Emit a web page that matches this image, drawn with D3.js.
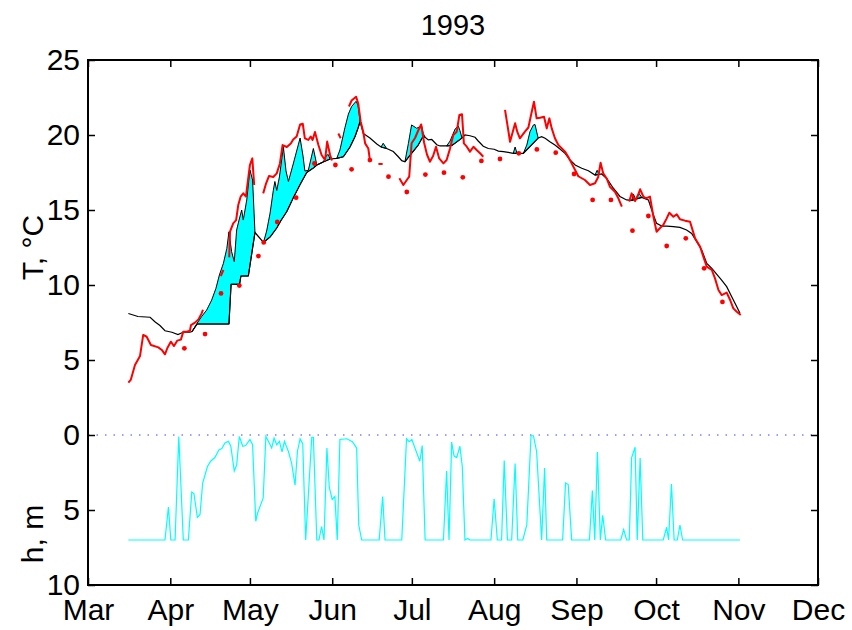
<!DOCTYPE html>
<html>
<head>
<meta charset="utf-8">
<script src="https://cdn.jsdelivr.net/npm/d3@7"></script>
<style>
  body { margin: 0; background: #fff; }
  svg { font-family: "Liberation Sans", Arial, Helvetica, sans-serif; }
</style>
</head>
<body>
<div id="chart"></div>
<script>
// day-of-year (1993) and temperature / depth values
const monthStarts = [60, 91, 121, 152, 182, 213, 244, 274, 305, 335];
const monthLabels = ["Mar", "Apr", "May", "Jun", "Jul", "Aug", "Sep", "Oct", "Nov", "Dec"];
const yTicks = [-10, -5, 0, 5, 10, 15, 20, 25];

// smooth black line (lower edge of the cyan patches)
const tBot = [[75.2,8.1],[78.8,7.9],[83.4,7.85],[85.2,7.55],[87.1,7.3],[89,6.95],[91.6,6.85],[93.9,6.7],[95.8,6.85],[98.4,6.85],
  [99.2,6.9],[101.1,7.4],[113.1,7.4],[113.9,10.05],[117.1,10.05],[117.6,10.6],[120.4,10.6],[122.9,13.5],[126.1,12.84],
  [128.6,13.2],[131.1,13.8],[132.7,14.3],[134.9,14.9],[137.3,15.8],[139.9,16.7],[142.4,17.5],[144.9,17.8],[146.2,18.0],
  [148.6,18.2],[151.2,18.4],[153.7,18.44],[156.2,18.55],[158.7,19.2],[160.6,19.9],[161.8,20.5],[162.5,20.9],[163.7,20.1],
  [166.2,19.8],[168.8,19.4],[170.4,19.2],[172.5,19.1],[175,18.9],[176.9,18.55],[178.2,18.29],[179.4,18.22],[184.3,19.3],
  [186.2,19.9],[187,19.85],[188.2,19.67],[189.5,19.7],[191.4,19.35],[192.6,19.27],[195.1,19.27],[197.1,19.3],[200.9,19.8],
  [202,20.0],[203.9,19.95],[205.8,19.85],[207,19.6],[208.9,19.25],[210.8,19.1],[213,19.05],[214.6,18.93],[216.5,18.89],
  [218.3,18.84],[220.2,18.78],[224,18.78],[229.6,19.8],[230.9,19.89],[232.2,19.78],[234,19.55],[235.9,19.33],[237.8,19.07],
  [239.7,18.78],[241.6,18.33],[243.5,18.0],[246,17.78],[248.5,17.62],[251,17.33],[253.5,17.4],[255.4,17.1],[257.9,16.45],
  [260.4,15.9],[262.9,15.67],[264.8,15.64],[268.6,15.84],[271.1,15.67],[273,14.67],[274.2,14.11],[276.1,13.93],[278,13.93],
  [280.5,13.89],[283,13.84],[285.5,13.67],[287.4,13.44],[289.3,12.89],[291.2,12.33],[293.1,11.44],[295,11.11],[296.8,10.73],
  [298.7,10.33],[300.6,9.89],[302.5,9.22],[304.4,8.55],[305.6,8.11]];

// upper edges of the cyan patches
const tTopBumps = [
  [[99.2,6.9],[101.1,7.45],[102.8,7.9],[104.7,8.33],[106.6,9.0],[108.2,9.78],[109.5,10.67],[111,11.44],[112.3,12.44],
   [113.1,13.55],[114.1,12.22],[115.1,11.56],[116,13.67],[116.9,14.33],[117.9,15.0],[118.5,14.33],[119.8,15.67],
   [121,17.67],[122,17.0],[122.9,13.5]],
  [[126.1,12.84],[127.3,13.6],[128.6,14.8],[129.8,16.3],[130.4,16.9],[131.1,16.3],[132.1,17.2],[133.6,19.2],[134.6,17.6],
   [135.5,16.9],[137.2,18.0],[138.7,19.0],[139.9,19.8],[141,18.6],[141.7,17.6],[143,17.65],[144.9,19.1],[146.2,18.0],
   [148.6,18.2],[149.9,18.65],[150.5,18.7],[151.2,18.4]],
  [[153.7,18.44],[154.9,19.0],[156.8,20.5],[158.1,21.4],[159.3,21.9],[161,22.25],[161.7,22.0],[162.5,20.9]],
  [[170.4,19.2],[171.2,19.45],[172.5,19.1]],
  [[179.4,18.22],[180.7,19.44],[181.9,20.67],[183.8,20.45],[185.7,20.6],[186.3,20.1],[187,19.85]],
  [[195.1,19.27],[196.4,19.6],[198.3,20.4],[199.5,20.6],[200.1,20.3],[200.9,19.8]],
  [[220.2,18.78],[220.9,19.2],[221.6,18.78]],
  [[224,18.78],[225.3,19.33],[226.5,20.22],[227.8,20.67],[228.4,20.7],[229.3,20.0],[229.6,19.8]],
  [[251,17.33],[251.8,17.65],[252.5,17.38]],
  [[264.8,15.64],[265.5,16.05],[266.3,15.7],[267.6,16.1],[268.6,15.84]]
];

// red line, broken into pieces where the record has gaps
const tRed = [
  [[75.2,3.49],[76.1,3.67],[77.7,4.67],[79.6,5.27],[80.8,6.67],[82.1,6.55],[83.7,6.0],[86.5,5.84],[87.8,5.67],[89,5.38],
   [89.9,5.8],[91.2,6.22],[92.4,5.93],[93.6,6.29],[95,6.36],[95.9,6.89],[97.2,6.89],[98.4,6.95],[98.8,7.33],[100.3,7.49],
   [101.6,7.71],[102.8,8.11],[103.3,8.35]],
  [[110,10.6],[111,11.0]],
  [[113.2,11.84],[113.5,13.56],[114.7,14.11],[115.8,14.33],[116.6,15.33],[117.5,15.89],[118.5,16.11],[119.5,15.9],
   [121,18.0],[121.9,18.44],[122.6,16.67]],
  [[126,16.11],[127.1,16.78],[128.2,17.27],[129.8,17.2],[131.1,17.44],[132.3,18.1],[133.3,19.33],[134.9,19.2],[136.4,19.44],
   [137.3,19.7],[138.6,19.9],[139.9,20.7],[140.9,20.75],[141.7,19.78],[143,19.67],[143.9,19.9],[144.6,19.67],[145.5,20.2],
   [146.8,19.33],[148,18.67],[149.3,18.33],[150.1,19.56],[151.2,18.67],[151.9,18.3]],
  [[154.3,20.1],[155.2,19.78]],
  [[158.3,21.9],[159.3,22.3],[161,22.55],[161.8,22.1],[162.7,20.9],[163.7,20.2],[164.4,19.44],[165.6,19.1],[166.2,18.33]],
  [[169.4,18.07],[171,18.07]],
  [[177.3,17.11],[178.8,16.67],[180.1,17.0],[181,17.22],[181.9,19.45],[183.2,19.8],[184.4,20.3],[185.5,20.7],[186.6,19.5],
   [187.7,18.7],[188.8,18.22],[190,18.6],[191.1,19.22],[192.3,18.44],[193.9,18.11],[195.1,18.33],[196.4,19.11],[197.6,20.0],
   [198.9,20.22],[199.9,21.33],[200.9,21.38],[201.6,19.44],[202.7,19.22],[203.9,18.89],[205.2,19.22],[206.4,19.0],
   [207.7,18.78],[208.9,18.55]],
  [[217.1,21.67],[218,20.67],[219,19.55],[220.9,20.78],[221.7,20.22],[222.7,19.78],[224.6,20.22],[225.9,20.5],[226.9,21.33],
   [228,22.22],[229,21.11],[230.3,21.15],[231.8,21.22],[232.8,20.44],[233.8,21.11],[234.7,20.44],[235.9,19.78],[237.2,19.33],
   [238.5,19.11],[239.7,18.89],[240.9,18.55],[242.2,18.11],[243.5,17.67],[244.7,17.25],[247.2,17.0],[249.1,16.67],
   [251,16.78],[252.2,17.2],[253.1,18.15],[254.1,17.44],[255.4,17.1],[256.6,16.55],[258.5,16.22],[259.8,15.78],[261.1,15.22]],
  [[263.9,15.56],[264.8,16.11],[266.1,15.6],[267.2,16.0],[268,16.38],[269.2,15.9],[270.2,15.78],[271.7,15.89],[273,14.55],
   [274.2,13.55],[275.5,13.8],[276.7,14.0],[278,14.44],[279,14.82],[280.5,14.55],[281.8,14.71],[283,14.38],[284.9,14.29],
   [286.8,14.22],[288.7,13.11],[290.6,12.55],[291.8,11.89],[293.1,11.22],[295,11.0],[296.2,10.44],[297.5,9.67],[298.7,9.33],
   [300.6,9.49],[301.9,9.0],[303.1,8.44],[304.4,8.22],[305.9,8.0]]
];

// weekly red dots
const tDots = [[96.3,5.78],[104.1,6.73],[110.1,9.44],[117,9.96],[124.2,11.93],[126.2,12.84],[131.3,14.2],[138.4,15.82],
  [145.3,18.1],[153.2,18.0],[159.3,17.71],[166.2,18.33],[173.2,17.22],[180.1,16.2],[187.1,17.36],[194.1,17.49],[201.2,17.18],
  [208.2,18.27],[215.2,18.4],[222.3,18.78],[229.1,19.04],[236.2,18.82],[243.1,17.4],[250.1,15.67],[257,15.67],[265.1,13.62],
  [271.1,14.6],[278,12.6],[285.2,13.11],[292.1,11.11],[299,8.87]];

// depth h, m (plotted downward from 0)
const hDepth = [[75.2,7],[89,7],[90.3,4.8],[91.2,7],[92.8,7],[94.2,0.1],[95.9,7],[97.8,7],[99.1,3.8],[99.9,3.9],[101.2,5.5],
  [102.2,5.3],[103.2,3.2],[105,2.1],[106.2,1.75],[107.8,1.5],[109.3,1.0],[110.4,0.9],[111.6,0.53],[112.9,0.42],[113.8,0.75],
  [115.1,2.4],[116,2.0],[117,0.1],[118.3,0.75],[119.4,0.7],[121,0.3],[122,0.65],[123.2,5.75],[123.9,5.2],[126,4.2],[127,0.1],
  [128.3,0.53],[129.2,0.87],[130.1,0.2],[131.1,0.65],[132.1,0.42],[133.1,1.13],[134,0.42],[135.5,1.1],[136.7,1.87],[138,3.35],
  [138.9,1.1],[139.9,0.25],[140.9,0.6],[142,7],[144.3,0.15],[144.9,0.15],[146.2,7],[147,7],[148,6.1],[148.9,7],[150,0.87],
  [150.9,3.5],[152,4.3],[153,4.1],[153.9,7],[154.9,0.3],[157.5,0.25],[159.6,0.45],[161.2,0.87],[162,6.0],[163.1,7],[169.7,7],
  [171,4.1],[171.9,7],[178.2,7],[180,0.25],[181,0.45],[182,0.3],[185,1.75],[185.9,0.7],[187,7],[193.9,7],[195.1,2.4],[196,7],
  [197,0.47],[197.9,1.4],[198.9,1.5],[200.1,0.75],[201,2.1],[202,7],[203,6.9],[203.9,7],[211.8,7],[213,4.25],[214.2,7],
  [215.8,7],[216.8,1.7],[218,7],[219.6,7],[220.9,1.9],[221.9,7],[223.8,7],[225.3,6],[226.9,0.05],[227.8,0.05],[229,1.1],
  [230.9,7],[232,2.2],[232.8,7],[238.8,7],[239.9,3.2],[240.9,3.3],[242.2,7],[248.9,7],[250,3.7],[250.9,7],[251.9,1.13],
  [253,7],[253.9,5.35],[255,7],[260.7,7],[261.8,6.3],[262.9,7],[263.9,7],[264.8,1.5],[266.1,0.82],[266.9,7],[268,1.53],
  [269,7],[276.7,7],[278,6.15],[278.7,7],[279.8,3.27],[280.8,7],[282,7],[283,6.0],[284,7],[305.6,7]];

const W = 852, H = 630;
const margin = { top: 60, right: 34, bottom: 45, left: 88 };

const svg = d3.select("#chart").append("svg")
    .attr("width", W)
    .attr("height", H);
svg.append("rect").attr("width", W).attr("height", H).attr("fill", "#fff");

const x = d3.scaleLinear().domain([60, 335]).range([margin.left, W - margin.right]);
const y = d3.scaleLinear().domain([-10, 25]).range([H - margin.bottom, margin.top]);

const line = d3.line().x(d => x(d[0])).y(d => y(d[1]));

// cyan patches between the two curves
tTopBumps.forEach(top => {
  const a = top[0][0], b = top[top.length - 1][0];
  const under = tBot.filter(d => d[0] > a && d[0] < b).reverse();
  svg.append("path")
      .attr("d", line(top.concat(under)) + "Z")
      .attr("fill", "#00ffff")
      .attr("stroke", "#000")
      .attr("stroke-width", 1);
});

svg.append("path")
    .attr("d", line(tBot))
    .attr("fill", "none")
    .attr("stroke", "#000")
    .attr("stroke-width", 1.2);

tRed.forEach(seg => {
  svg.append("path")
      .attr("d", line(seg))
      .attr("fill", "none")
      .attr("stroke", "#ff0000")
      .attr("stroke-width", 2)
      .attr("stroke-linejoin", "round");
});

svg.selectAll(".dot")
    .data(tDots)
    .enter()
    .append("circle")
    .attr("class", "dot")
    .attr("cx", d => x(d[0]))
    .attr("cy", d => y(d[1]))
    .attr("r", 2.4)
    .attr("fill", "#ff0000");

// zero line
svg.append("line")
    .attr("x1", x(60)).attr("x2", x(335))
    .attr("y1", y(0)).attr("y2", y(0))
    .attr("stroke", "#7f7fff")
    .attr("stroke-width", 1.5)
    .attr("stroke-dasharray", "1.5,7");

svg.append("path")
    .attr("d", d3.line().x(d => x(d[0])).y(d => y(-d[1]))(hDepth))
    .attr("fill", "none")
    .attr("stroke", "#00ffff")
    .attr("stroke-width", 1.2);

// axes, MATLAB style: box with inward ticks on all sides
const fontSize = "30px";
const axes = [
  { a: d3.axisBottom(x).tickValues(monthStarts).tickFormat((d, i) => monthLabels[i]), t: `translate(0,${y(-10)})`, p: 14 },
  { a: d3.axisTop(x).tickValues(monthStarts).tickFormat(""), t: `translate(0,${y(25)})`, p: 7 },
  { a: d3.axisLeft(y).tickValues(yTicks).tickFormat(d => Math.abs(d)), t: `translate(${x(60)},0)`, p: 8 },
  { a: d3.axisRight(y).tickValues(yTicks).tickFormat(""), t: `translate(${x(335)},0)`, p: 7 }
];
axes.forEach(o => {
  const g = svg.append("g")
      .attr("transform", o.t)
      .call(o.a.tickSize(-7).tickSizeOuter(0).tickPadding(o.p));
  g.select(".domain").remove();
  g.selectAll(".tick line").attr("stroke", "#000").attr("stroke-width", 1.5);
  g.selectAll(".tick text")
      .attr("fill", "#000")
      .style("font-size", fontSize)
      .style("font-family", '"Liberation Sans", Arial, sans-serif');
});

svg.append("rect")
    .attr("x", x(60)).attr("y", y(25))
    .attr("width", x(335) - x(60)).attr("height", y(-10) - y(25))
    .attr("fill", "none")
    .attr("stroke", "#000")
    .attr("stroke-width", 2);

svg.append("text")
    .attr("x", (x(60) + x(335)) / 2)
    .attr("y", 35)
    .attr("text-anchor", "middle")
    .style("font-size", "29px")
    .text("1993");

svg.append("text")
    .attr("transform", `translate(43,${y(12.5)}) rotate(-90)`)
    .attr("text-anchor", "middle")
    .style("font-size", fontSize)
    .text("T, °C");

svg.append("text")
    .attr("transform", `translate(43,${y(-6.6)}) rotate(-90)`)
    .attr("text-anchor", "middle")
    .style("font-size", fontSize)
    .text("h, m");
</script>
</body>
</html>
